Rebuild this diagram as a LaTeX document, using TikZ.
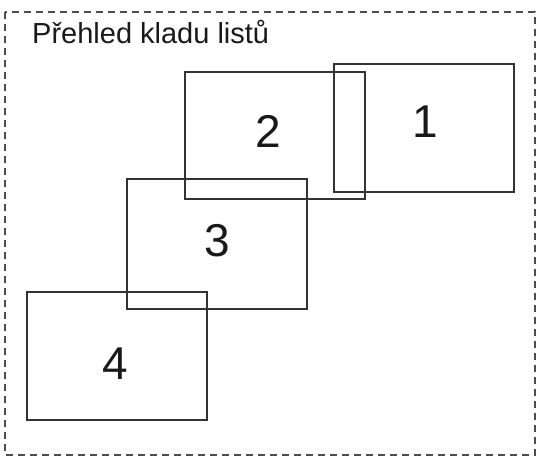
\documentclass[tikz,border=0pt]{standalone}
\usepackage{fontspec}
\setmainfont{Liberation Sans}
\begin{document}
\begin{tikzpicture}[x=1pt,y=-1pt,
  sheet/.style={draw=black!80,line width=1.1pt},
  num/.style={font=\fontsize{46}{46}\selectfont,text=black!90},
  frame/.style={draw=black!70,line width=1.1pt,dash pattern=on 7pt off 5pt}]
\useasboundingbox (0,0) rectangle (541,466);
\draw[frame] (5,12) rectangle (535,455);
\node[anchor=base west,inner sep=0pt,font=\fontsize{29}{29}\selectfont,text=black!90] (title) at (32,43) {Přehled kladu listů};
\draw[sheet] (334,64) rectangle (514,192);
\draw[sheet] (185,72) rectangle (365,199);
\draw[sheet] (127,179) rectangle (307,309);
\draw[sheet] (27,292) rectangle (207,420);
\node[num] (n1) at (425,122) {1};
\node[num] (n2) at (268,131) {2};
\node[num] (n3) at (217,241) {3};
\node[num] (n4) at (115,364) {4};
\end{tikzpicture}
\end{document}
